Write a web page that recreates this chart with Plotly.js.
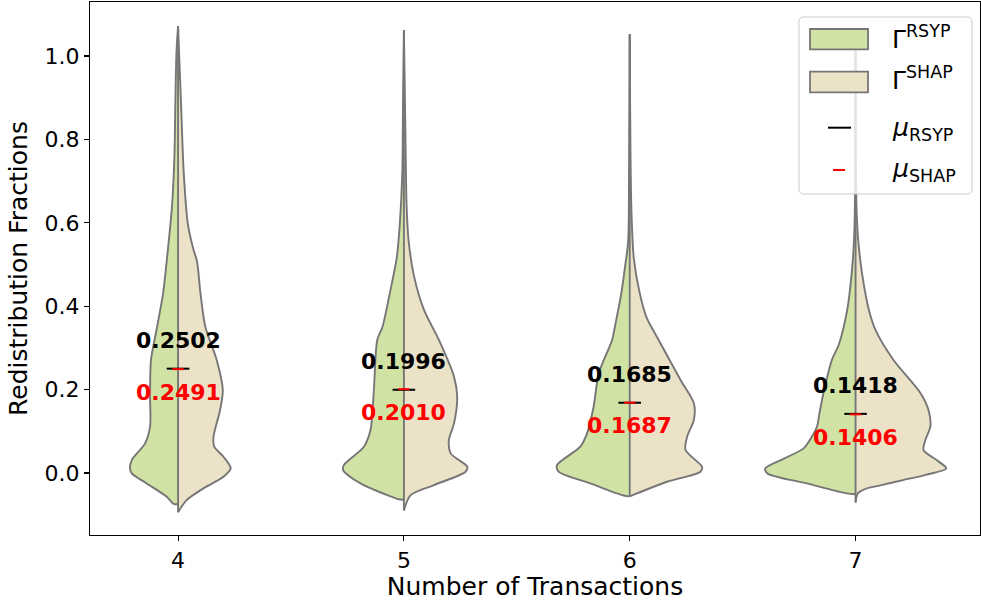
<!DOCTYPE html>
<html>
<head>
<meta charset="utf-8">
<script src="https://cdn.plot.ly/plotly-3.0.1.min.js"></script>
<style>html,body{margin:0;padding:0;background:#fff;}#chart{width:981px;height:607px;}</style>
</head>
<body>
<div id="chart"></div>
<script>
// ---- categories and means ----
const categories = [4, 5, 6, 7];
const meanRSYP = [0.2502, 0.1996, 0.1685, 0.1418];
const meanSHAP = [0.2491, 0.2010, 0.1687, 0.1406];

// ---- violin half profiles (value, half-width in x units) ----
const rsypY4 = [1.072, 1.010, 0.887, 0.763, 0.639, 0.515, 0.432, 0.350, 0.271, 0.185, 0.111, 0.071, 0.031, 0.011, -0.001, -0.025, -0.057, -0.074, -0.075];
const rsypW4 = [0, 0.007, 0.012, 0.016, 0.027, 0.049, 0.066, 0.093, 0.120, 0.124, 0.124, 0.146, 0.205, 0.213, 0.205, 0.139, 0.050, 0.020, 0];
const shapY4 = [1.072, 0.887, 0.721, 0.598, 0.540, 0.507, 0.432, 0.350, 0.271, 0.199, 0.151, 0.087, 0.063, 0.039, 0.011, -0.009, -0.037, -0.065, -0.094];
const shapW4 = [0, 0.013, 0.025, 0.043, 0.066, 0.084, 0.099, 0.121, 0.171, 0.198, 0.186, 0.157, 0.160, 0.201, 0.233, 0.201, 0.112, 0.038, 0];

const rsypY5 = [1.062, 0.887, 0.721, 0.598, 0.515, 0.432, 0.350, 0.319, 0.199, 0.103, 0.063, 0.019, 0.007, -0.025, -0.053, -0.063, -0.064];
const rsypW5 = [0, 0.004, 0.007, 0.018, 0.032, 0.062, 0.095, 0.118, 0.133, 0.148, 0.177, 0.266, 0.269, 0.192, 0.074, 0.022, 0];
const shapY5 = [1.062, 0.804, 0.639, 0.556, 0.474, 0.391, 0.319, 0.231, 0.183, 0.119, 0.079, 0.047, 0.015, 0.003, -0.029, -0.053, -0.090];
const shapW5 = [0, 0.007, 0.012, 0.021, 0.044, 0.089, 0.155, 0.222, 0.236, 0.222, 0.199, 0.207, 0.281, 0.273, 0.133, 0.030, 0];

const rsypY6 = [1.052, 0.721, 0.556, 0.490, 0.432, 0.350, 0.319, 0.239, 0.159, 0.095, 0.063, 0.019, 0.003, -0.025, -0.049, -0.054, -0.056];
const rsypW6 = [0, 0.003, 0.007, 0.022, 0.037, 0.066, 0.078, 0.137, 0.160, 0.189, 0.219, 0.322, 0.315, 0.174, 0.056, 0.027, 0];
const shapY6 = [1.052, 0.639, 0.515, 0.432, 0.374, 0.319, 0.223, 0.167, 0.127, 0.087, 0.055, 0.015, 0.003, -0.021, -0.049, -0.056];
const shapW6 = [0, 0.007, 0.018, 0.044, 0.074, 0.128, 0.225, 0.284, 0.284, 0.254, 0.247, 0.320, 0.313, 0.165, 0.032, 0];

const rsypY7 = [1.019, 0.639, 0.556, 0.474, 0.391, 0.308, 0.271, 0.192, 0.143, 0.111, 0.077, 0.059, 0.035, 0.011, -0.001, -0.025, -0.049, -0.051];
const rsypW7 = [0, 0.003, 0.007, 0.018, 0.037, 0.074, 0.105, 0.142, 0.160, 0.171, 0.205, 0.230, 0.315, 0.400, 0.390, 0.216, 0.038, 0];
const shapY7 = [1.019, 0.639, 0.556, 0.474, 0.391, 0.342, 0.271, 0.192, 0.151, 0.111, 0.079, 0.055, 0.031, 0.011, -0.005, -0.017, -0.029, -0.037, -0.049, -0.071];
const shapW7 = [0, 0.004, 0.012, 0.030, 0.059, 0.089, 0.168, 0.287, 0.323, 0.331, 0.309, 0.301, 0.359, 0.402, 0.306, 0.210, 0.114, 0.050, 0.010, 0];

const tickVals = [4, 5, 6, 7];
const tickText = ['4', '5', '6', '7'];

// ---- styling ----
const FONT = 'DejaVu Sans, Verdana, sans-serif';
const GREEN = '#d1e3a4';
const BEIGE = '#ebe2c7';
const EDGE = '#767676';

const rsypProfiles = [[rsypY4, rsypW4], [rsypY5, rsypW5], [rsypY6, rsypW6], [rsypY7, rsypW7]];
const shapProfiles = [[shapY4, shapW4], [shapY5, shapW5], [shapY6, shapW6], [shapY7, shapW7]];

function half(c, ys, ws, side, color) {
  return {
    type: 'scatter', mode: 'lines',
    x: ys.map((y, i) => c + side * ws[i]), y: ys.slice(),
    fill: 'toself', fillcolor: color,
    line: {color: EDGE, width: 1.9, shape: 'spline', smoothing: 0.8},
    hoverinfo: 'skip', showlegend: false
  };
}

const traces = [];
categories.forEach((c, i) => {
  traces.push(half(c, rsypProfiles[i][0], rsypProfiles[i][1], -1, GREEN));
  traces.push(half(c, shapProfiles[i][0], shapProfiles[i][1], 1, BEIGE));
});
// split (centre) lines of each violin
const cx = [], cy = [];
categories.forEach((c, i) => {
  const rY = rsypProfiles[i][0], sY = shapProfiles[i][0];
  cx.push(c, c, null);
  cy.push(Math.max(rY[0], sY[0]), Math.min(rY[rY.length - 1], sY[sY.length - 1]), null);
});
traces.push({type: 'scatter', mode: 'lines', x: cx, y: cy, line: {color: EDGE, width: 1.9}, showlegend: false, hoverinfo: 'skip'});

// mean markers (short horizontal ticks)
const BLACK_HW = 0.05, RED_HW = 0.025;
const mx = [], my = [], rx = [], ry = [];
categories.forEach((c, i) => {
  mx.push(c - BLACK_HW, c + BLACK_HW, null); my.push(meanRSYP[i], meanRSYP[i], null);
  rx.push(c - RED_HW, c + RED_HW, null); ry.push(meanSHAP[i], meanSHAP[i], null);
});
traces.push({type: 'scatter', mode: 'lines', x: mx, y: my, line: {color: '#000', width: 2}, showlegend: false, hoverinfo: 'skip'});
traces.push({type: 'scatter', mode: 'lines', x: rx, y: ry, line: {color: '#ff0000', width: 2}, showlegend: false, hoverinfo: 'skip'});

const annotations = [];
categories.forEach((c, i) => {
  annotations.push({x: c, y: meanRSYP[i], xref: 'x', yref: 'y', yshift: 28, showarrow: false,
    text: '<b>' + meanRSYP[i].toFixed(4) + '</b>', font: {family: FONT, size: 22, color: '#000'}});
  annotations.push({x: c, y: meanSHAP[i], xref: 'x', yref: 'y', yshift: -23, showarrow: false,
    text: '<b>' + meanSHAP[i].toFixed(4) + '</b>', font: {family: FONT, size: 22, color: '#ff0000'}});
});

// ---- manual legend (paper coordinates) ----
const lx0 = 0.7966, lx1 = 0.9910, ly0 = 0.6398, ly1 = 0.9719, rxp = 0.0056, ryp = 0.0094;
const boxPath = `M${lx0 + rxp},${ly1} L${lx1 - rxp},${ly1} Q${lx1},${ly1} ${lx1},${ly1 - ryp} L${lx1},${ly0 + ryp} Q${lx1},${ly0} ${lx1 - rxp},${ly0} L${lx0 + rxp},${ly0} Q${lx0},${ly0} ${lx0},${ly0 + ryp} L${lx0},${ly1 - ryp} Q${lx0},${ly1} ${lx0 + rxp},${ly1} Z`;
const shapes = [
  {type: 'path', xref: 'paper', yref: 'paper', path: boxPath, fillcolor: 'rgba(255,255,255,0.8)', line: {color: '#cccccc', width: 1}, layer: 'above'},
  {type: 'rect', xref: 'paper', yref: 'paper', x0: 0.8090, x1: 0.8742, y0: 0.9113, y1: 0.9493, fillcolor: GREEN, line: {color: EDGE, width: 1.8}, layer: 'above'},
  {type: 'rect', xref: 'paper', yref: 'paper', x0: 0.8090, x1: 0.8742, y0: 0.8306, y1: 0.8692, fillcolor: BEIGE, line: {color: EDGE, width: 1.8}, layer: 'above'},
  {type: 'line', xref: 'paper', yref: 'paper', x0: 0.8292, x1: 0.8551, y0: 0.7642, y1: 0.7642, line: {color: '#000', width: 2}, layer: 'above'},
  {type: 'line', xref: 'paper', yref: 'paper', x0: 0.8348, x1: 0.8483, y0: 0.6848, y1: 0.6848, line: {color: '#ff0000', width: 2}, layer: 'above'}
];
const legendLabels = ['Γ<sup>RSYP</sup>', 'Γ<sup>SHAP</sup>', '<i>μ</i><sub>RSYP</sub>', '<i>μ</i><sub>SHAP</sub>'];
const legendY = [0.934, 0.856, 0.762, 0.684];
legendLabels.forEach((t, i) => {
  annotations.push({x: 0.899, y: legendY[i], xref: 'paper', yref: 'paper', xanchor: 'left', yanchor: 'middle',
    showarrow: false, text: t, font: {family: FONT, size: 25, color: '#000'}});
});

const axisCommon = {
  showline: true, mirror: true, linecolor: '#000', linewidth: 1.1,
  ticks: 'outside', ticklen: 5, tickwidth: 1.1, tickcolor: '#000',
  showgrid: false, zeroline: false,
  tickfont: {family: FONT, size: 22, color: '#000'}
};

const layout = {
  width: 981, height: 607,
  margin: {l: 90, r: 1, t: 2, b: 72},
  paper_bgcolor: '#fff', plot_bgcolor: '#fff',
  showlegend: false,
  xaxis: Object.assign({}, axisCommon, {
    range: [3.610, 7.551], tickvals: tickVals, ticktext: tickText,
    title: {text: 'Number of Transactions', font: {family: FONT, size: 25, color: '#000'}, standoff: 4}
  }),
  yaxis: Object.assign({}, axisCommon, {
    range: [-0.1487, 1.1295], tick0: 0, dtick: 0.2, tickformat: '.1f',
    title: {text: 'Redistribution Fractions', font: {family: FONT, size: 25, color: '#000'}, standoff: 9}
  }),
  shapes: shapes,
  annotations: annotations
};

Plotly.newPlot('chart', traces, layout, {staticPlot: true, displayModeBar: false});
</script>
</body>
</html>
